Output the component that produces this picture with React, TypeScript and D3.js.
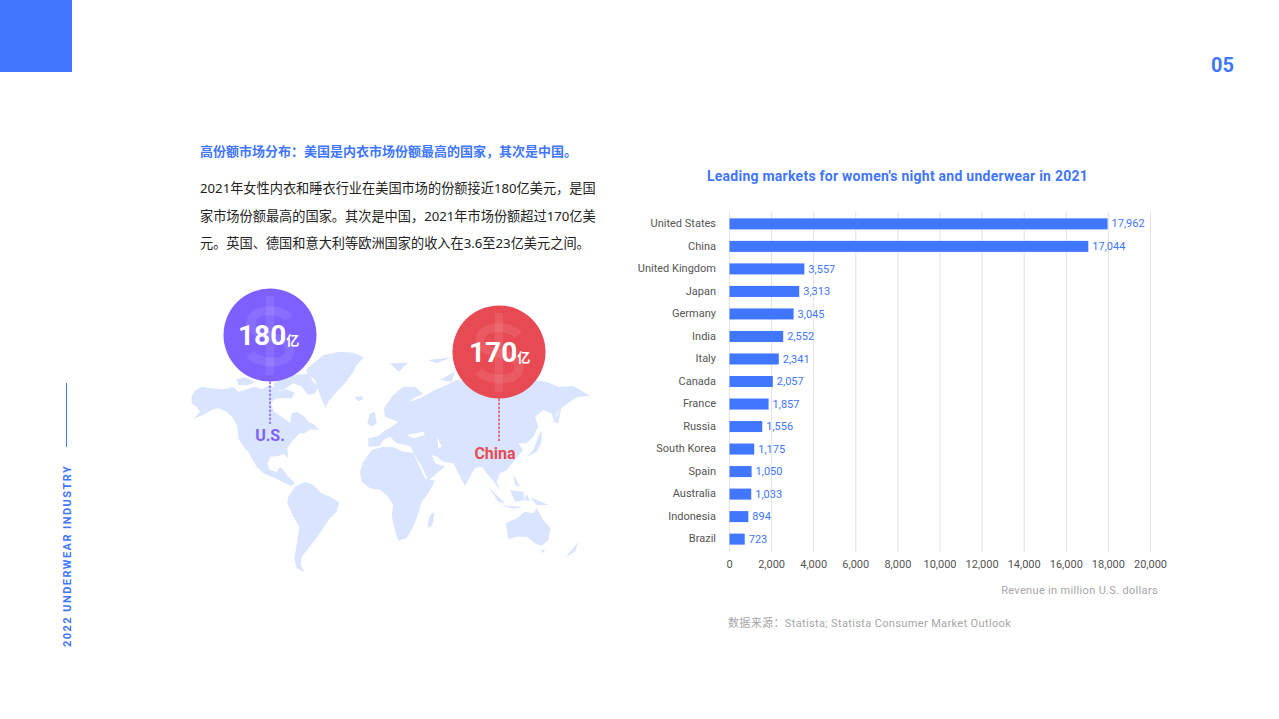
import React from "react";
import * as d3 from "d3";

const categories = ["United States","China","United Kingdom","Japan","Germany","India","Italy","Canada","France","Russia","South Korea","Spain","Australia","Indonesia","Brazil"];
const revenue = [17962,17044,3557,3313,3045,2552,2341,2057,1857,1556,1175,1050,1033,894,723];
const xTicks = [0,2000,4000,6000,8000,10000,12000,14000,16000,18000,20000];
const bodyLines = [
  "2021年女性内衣和睡衣行业在美国市场的份额接近180亿美元，是国",
  "家市场份额最高的国家。其次是中国，2021年市场份额超过170亿美",
  "元。英国、德国和意大利等欧洲国家的收入在3.6至23亿美元之间。",
];
// Decorative world-map silhouette, traced by eye (zoom-crop units)
const mapLand = [
  "M35,378 45,362 65,350 95,355 130,358 160,352 175,365 200,358 225,350 245,358 268,345 280,352 300,362 320,358 345,368 335,385 290,385 272,398 282,425 305,440 330,458 335,430 350,425 375,440 385,455 405,465 415,480 390,478 375,490 360,490 335,515 322,535 325,565 312,552 295,558 272,560 262,580 270,600 290,605 300,590 310,600 320,615 345,640 335,648 315,640 285,625 250,610 230,590 215,565 205,545 190,530 175,505 172,470 160,445 140,425 115,415 95,420 70,435 40,447 60,425 50,410 35,400Z",
  "M170,328 195,322 225,335 205,345 175,345Z M280,340 330,315 385,312 400,335 415,350 405,370 385,375 365,350 340,340 310,360 285,360Z",
  "M378,300 400,280 430,255 480,245 520,248 552,262 530,285 520,305 495,340 470,365 445,395 437,414 425,390 415,360 405,330 385,315Z",
  "M522,382 545,378 550,388 535,394Z",
  "M325,680 345,650 375,635 400,645 425,670 450,680 478,697 470,725 445,750 430,775 405,810 385,835 365,860 362,885 375,908 350,895 343,865 350,825 358,770 340,740 322,700Z",
  "M540,605 550,575 575,540 610,530 640,532 670,545 700,548 712,575 735,625 765,632 745,670 725,695 715,730 700,770 680,805 655,812 642,770 635,735 640,705 625,680 600,660 570,655 545,635Z",
  "M742,770 750,735 763,725 760,755 752,772Z",
  "M565,530 565,505 595,498 610,485 635,470 655,455 615,440 612,415 640,375 670,350 705,350 730,372 700,385 690,395 720,385 765,360 800,345 830,330 900,340 1000,345 1060,330 1100,335 1135,350 1180,348 1232,378 1195,380 1170,395 1150,410 1130,430 1122,455 1115,430 1090,420 1065,440 1075,470 1060,500 1040,520 1015,520 1030,540 1005,570 980,600 960,610 950,635 960,660 945,640 925,615 905,590 885,595 870,620 855,648 835,610 820,580 790,575 770,560 755,555 765,580 795,590 770,610 745,632 725,590 705,555 690,528 650,520 630,500 610,510 600,528Z",
  "M562,460 570,430 585,425 590,460 575,470Z",
  "M630,280 685,278 655,305Z M745,270 815,262 770,280Z M780,330 825,305 815,335Z",
  "M1040,560 1060,540 1075,500 1085,480 1085,515 1070,545Z M1120,455 1145,410 1135,460Z",
  "M925,650 975,700 955,695Z M960,705 1030,712 1000,716Z M990,660 1030,665 1035,690 1005,695Z M1040,670 1050,695 1035,690Z M1050,680 1105,705 1070,705Z M1000,610 1020,650 1005,645Z",
  "M978,760 1010,745 1035,725 1060,730 1070,715 1090,750 1112,775 1105,810 1085,828 1065,820 1040,800 1010,800 985,808Z",
  "M1082,838 1095,840 1090,850Z M1155,862 1175,840 1195,815 1185,845Z",
];
const mapWater = [
  "M680,495 730,485 735,495 700,505Z",
  "M772,500 785,530 775,535Z",
];

const x = d3.scaleLinear().domain([0, 20000]).range([729.5, 1150.5]);
const y = d3.scaleBand().domain(categories).range([212.5, 550.5]).paddingInner(0.51).paddingOuter(0.26);
const fmt = d3.format(",");
const BLUE = "#4176ff";
const FONT = "Roboto, 'Noto Sans CJK SC', sans-serif";
const CJK = "'Noto Sans', 'Noto Sans CJK SC', sans-serif";

function Bubble({ cx, cy, r, fill, value, label, labelY, lineTo, labelX, numX }: any) {
  return (
    <g>
      <line x1={cx} x2={cx} y1={cy + r} y2={lineTo} stroke={fill} strokeWidth={1.5} strokeDasharray="2.5 1.5" />
      <circle cx={cx} cy={cy} r={r} fill={fill} />
      <g transform={`translate(${cx},${cy})`} fill="none" stroke="#fff" strokeOpacity={0.09}>
        <line x1={0} x2={0} y1={-39} y2={40} strokeWidth={8.5} />
        <path d="M19,-17 C12,-27 -20,-28 -19,-11 C-18,5 19,-3 20,15 C20,31 -12,30 -20,19" strokeWidth={9} />
      </g>
      <text x={numX} y={cy + 10} fontFamily={FONT} fontWeight={700} fontSize={28} fill="#fff">
        {value}<tspan fontSize={13} fontFamily="'Noto Sans CJK SC'" dx={0}>亿</tspan>
      </text>
      <text x={labelX} y={labelY} textAnchor="middle" fontFamily={FONT} fontWeight={700} fontSize={16} fill={fill}>{label}</text>
    </g>
  );
}

export default function App() {
  return (
    <svg width={1279} height={719} style={{ position: "fixed", left: 0, top: 0, background: "#fff" }}>
      <rect x={0} y={0} width={72} height={72} fill={BLUE} />
      <text x={1211} y={72} fontFamily={FONT} fontSize={20} fontWeight={700} fill={BLUE}>05</text>

      <line x1={66.5} x2={66.5} y1={383} y2={447} stroke={BLUE} strokeWidth={1} />
      <text transform="translate(70.5,647) rotate(-90)" fontFamily={FONT} fontSize={11} fontWeight={700} fill={BLUE} letterSpacing={1.45}>2022 UNDERWEAR INDUSTRY</text>

      <text x={200} y={156} fontFamily={CJK} fontSize={13} fontWeight={700} fill={BLUE}>高份额市场分布：美国是内衣市场份额最高的国家，其次是中国。</text>
      {bodyLines.map((t, i) => (
        <text key={i} x={200} y={193 + i * 27.5} fontFamily={CJK} fontSize={13.2} fill="#222">{t}</text>
      ))}

      <g transform="translate(180,270) scale(0.3333)">
        {mapLand.map((d, i) => <path key={i} d={d} fill="#d9e5ff" />)}
        {mapWater.map((d, i) => <path key={i} d={d} fill="#fff" />)}
      </g>
      <Bubble cx={270} cy={335} r={46.5} fill="#7d60ff" value="180" label="U.S." labelX={270} labelY={441} lineTo={424} numX={238} />
      <Bubble cx={499} cy={352} r={46.5} fill="#e84a53" value="170" label="China" labelX={495} labelY={459} lineTo={441} numX={469} />

      <text x={897.5} y={181} textAnchor="middle" fontFamily={FONT} fontSize={14} fontWeight={700} fill={BLUE} letterSpacing={0.25}>Leading markets for women's night and underwear in 2021</text>

      {xTicks.map(t => (
        <g key={t}>
          <line x1={x(t)} x2={x(t)} y1={212} y2={552} stroke="#e3e3e3" strokeWidth={1} />
          <text x={x(t)} y={568} textAnchor="middle" fontFamily={FONT} fontSize={11} fill="#555">{fmt(t)}</text>
        </g>
      ))}
      {categories.map((c, i) => (
        <g key={c}>
          <text x={716} y={y(c)! + y.bandwidth() / 2 + 3.3} textAnchor="end" fontFamily={FONT} fontSize={11} fill="#555">{c}</text>
          <rect x={x(0)} y={y(c)!} width={x(revenue[i]) - x(0)} height={y.bandwidth()} fill={BLUE} />
          <text x={x(revenue[i]) + 4} y={y(c)! + y.bandwidth() / 2 + 3.6} fontFamily={FONT} fontSize={11} fill={BLUE}>{fmt(revenue[i])}</text>
        </g>
      ))}
      <text x={1158} y={594} textAnchor="end" fontFamily={FONT} fontSize={11} fill="#a6a6a6" letterSpacing={0.33}>Revenue in million U.S. dollars</text>
      <text x={728} y={627} fontFamily={FONT} fontSize={11} fill="#a6a6a6" letterSpacing={0.36}>数据来源：Statista; Statista Consumer Market Outlook</text>
    </svg>
  );
}
